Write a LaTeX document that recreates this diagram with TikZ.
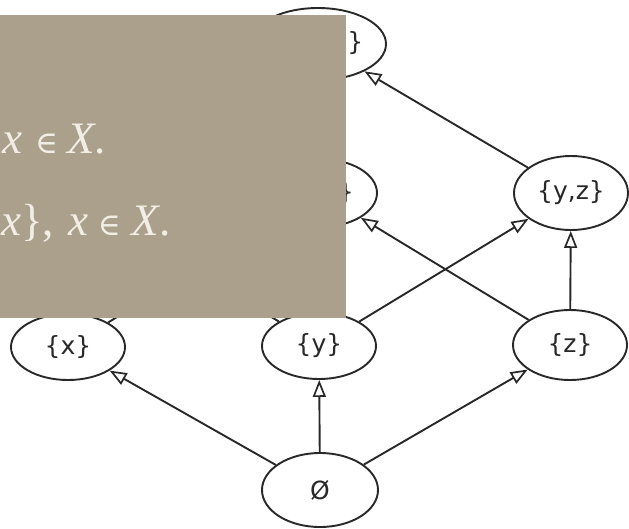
\documentclass[tikz,border=0pt]{standalone}
\usepackage{fontspec}
\setmainfont{Liberation Serif}
\newfontfamily\labelfont{DejaVu Sans}
\newfontfamily\relfont{DejaVu Serif}
\usetikzlibrary{arrows.meta,shapes.geometric}

\definecolor{panelbg}{RGB}{171,160,139}
\definecolor{paneltext}{RGB}{242,238,230}
\definecolor{inkgray}{RGB}{40,40,40}

% element-of sign, set a little smaller than the letters around it
\newcommand{\elemof}{{\relfont\fontsize{31}{31}\selectfont ∈}}

\tikzset{
  setnode/.style={ellipse, draw=inkgray, line width=1.9pt, fill=white,
    minimum width=114pt, minimum height=68pt, inner sep=0pt,
    font=\labelfont\fontsize{25}{25}\selectfont, text=inkgray},
  cover/.style={draw=inkgray, line width=1.9pt,
    -{Triangle[open, length=17pt, width=13pt, line width=1.7pt]}},
  paneltxt/.style={anchor=base west, inner sep=0pt, text=paneltext,
    font=\fontsize{45}{45}\selectfont}
}

\begin{document}
\begin{tikzpicture}[x=1pt, y=-1pt]
  \useasboundingbox (0,0) rectangle (629,528);
  \fill[white] (0,0) rectangle (629,528);

  % elements of the power set of {x,y,z}; the {x,y} node lies wholly under the panel
  \node[setnode, minimum width=136pt, minimum height=72pt] (xyz) at (318,44) {\{x,y,z\}};
  \node[setnode] (xy) at (68,193) {};
  \node[setnode] (xz) at (320,193) {\{x,z\}};
  \node[setnode, minimum height=74pt] (yz) at (571,193) {\{y,z\}};
  \node[setnode, minimum height=66pt] (x) at (68,347) {\{x\}};
  \node[setnode, minimum height=66pt] (y) at (319,346) {\{y\}};
  \node[setnode, minimum height=70pt] (z) at (570,345) {\{z\}};
  \node[setnode, minimum width=116pt, minimum height=74pt] (e) at (320,490) {Ø};

  % covering relations, pointing up to the larger set
  \draw[cover] (e) -- (x);
  \draw[cover] (e) -- (y);
  \draw[cover] (e) -- (z);
  \draw[cover] (x) -- (xy);
  \draw[cover] (x) -- (xz);
  \draw[cover] (y) -- (xy);
  \draw[cover] (y) -- (yz);
  \draw[cover] (z) -- (xz);
  \draw[cover] (z) -- (yz);
  \draw[cover] (xy) -- (xyz);
  \draw[cover] (xz) -- (xyz);
  \draw[cover] (yz) -- (xyz);

  % overlaid panel with the definition text
  \fill[panelbg] (0,15) rectangle (346,318);
  \node[paneltxt] (l1) at (2,153)
    {\textit{x}\hspace{13pt}\elemof\hspace{9pt}\textit{X}.};
  \node[paneltxt] (l2) at (1,235)
    {\textit{x}\},\hspace{14pt}\textit{x}\hspace{10pt}\elemof\hspace{11pt}\textit{X}.};
\end{tikzpicture}
\end{document}
